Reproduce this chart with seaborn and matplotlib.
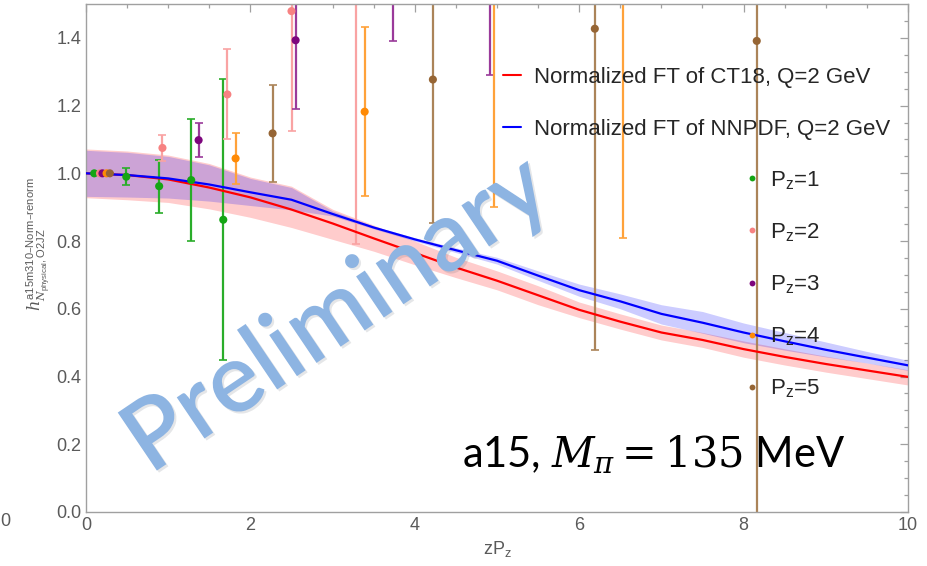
import numpy as np
import pandas as pd
import matplotlib
matplotlib.use("Agg")
import matplotlib.pyplot as plt
import seaborn as sns
from matplotlib.lines import Line2D
import matplotlib.patheffects as pe

# ---------------- data ----------------
zpz = [0.0, 0.5, 1.0, 1.5, 2.0, 2.5, 3.0, 3.5, 4.0, 4.5, 5.0,
       5.5, 6.0, 6.5, 7.0, 7.5, 8.0, 8.5, 9.0, 9.5, 10.0]
ct18 = [1.000, 0.995, 0.982, 0.958, 0.929, 0.893, 0.852, 0.808, 0.765, 0.722, 0.683,
        0.640, 0.597, 0.562, 0.530, 0.508, 0.481, 0.458, 0.437, 0.418, 0.399]
ct18_lo = [0.928, 0.922, 0.914, 0.895, 0.870, 0.840, 0.805, 0.770, 0.730, 0.692, 0.656,
           0.612, 0.574, 0.540, 0.508, 0.486, 0.457, 0.434, 0.413, 0.394, 0.375]
ct18_hi = [1.072, 1.066, 1.054, 1.029, 0.989, 0.962, 0.894, 0.847, 0.800, 0.752, 0.712,
           0.668, 0.620, 0.585, 0.552, 0.530, 0.505, 0.482, 0.460, 0.440, 0.420]
nnpdf = [1.000, 0.995, 0.985, 0.967, 0.944, 0.922, 0.880, 0.840, 0.805, 0.773, 0.742,
         0.698, 0.655, 0.622, 0.585, 0.559, 0.530, 0.504, 0.479, 0.456, 0.433]
nnpdf_lo = [0.932, 0.930, 0.927, 0.918, 0.905, 0.892, 0.874, 0.836, 0.800, 0.766, 0.732,
            0.684, 0.637, 0.600, 0.555, 0.528, 0.500, 0.478, 0.458, 0.440, 0.418]
nnpdf_hi = [1.068, 1.062, 1.050, 1.025, 0.985, 0.958, 0.889, 0.844, 0.810, 0.780, 0.752,
            0.712, 0.673, 0.644, 0.612, 0.592, 0.558, 0.530, 0.502, 0.474, 0.448]

pz_labels = ["1", "2", "3", "4", "5"]
pz1_x = [0.10, 0.49, 0.89, 1.28, 1.67]
pz1_y = [1.000, 0.990, 0.962, 0.980, 0.863]
pz1_e = [0.000, 0.025, 0.078, 0.180, 0.415]
pz2_x = [0.17, 0.93, 1.72, 2.50, 3.28]
pz2_y = [1.000, 1.075, 1.233, 1.479, 1.950]
pz2_e = [0.000, 0.038, 0.133, 0.355, 1.160]
pz3_x = [0.20, 1.37, 2.55, 3.73, 4.91]
pz3_y = [1.000, 1.098, 1.393, 1.900, 2.000]
pz3_e = [0.000, 0.051, 0.203, 0.510, 0.710]
pz4_x = [0.25, 1.82, 3.39, 4.96, 6.53]
pz4_y = [1.000, 1.044, 1.182, 1.700, 1.900]
pz4_e = [0.000, 0.076, 0.250, 0.800, 1.090]
pz5_x = [0.29, 2.27, 4.22, 6.19, 8.16]
pz5_y = [1.000, 1.118, 1.277, 1.427, 1.391]
pz5_e = [0.000, 0.144, 0.424, 0.950, 1.600]

marker_colors = ["#14a514", "#f78282", "#7d067d", "#ff8a05", "#966534"]
bar_colors = ["#2aad2a", "#f9a3a3", "#9a3a9a", "#ffa23a", "#ab8459"]

# ---------------- style ----------------
sns.set_theme(style="white")
plt.rcParams["font.family"] = ["Liberation Sans", "DejaVu Sans"]
plt.rcParams["mathtext.fontset"] = "dejavuserif"

gray = "#5a5a5a"
spine_gray = "#a0a0a0"

fig = plt.figure(figsize=(9.28, 5.66), dpi=100)
ax = fig.add_axes([86 / 928, 1 - 512 / 566, 822 / 928, 508 / 566])

# bands
ax.fill_between(zpz, ct18_lo, ct18_hi, color="#ff0000", alpha=0.2, lw=0, zorder=1)
ax.fill_between(zpz, nnpdf_lo, nnpdf_hi, color="#0000ff", alpha=0.2, lw=0, zorder=1.1)

# error bars
groups = [(pz1_x, pz1_y, pz1_e), (pz2_x, pz2_y, pz2_e), (pz3_x, pz3_y, pz3_e),
          (pz4_x, pz4_y, pz4_e), (pz5_x, pz5_y, pz5_e)]
for (gx, gy, ge), bc in zip(groups, bar_colors):
    ax.errorbar(gx, gy, yerr=ge, fmt="none", ecolor=bc, elinewidth=1.6,
                capsize=3.0, capthick=1.2, zorder=2)

# curves
curves = pd.DataFrame({
    "zPz": zpz + zpz,
    "h": ct18 + nnpdf,
    "pdf": ["CT18"] * len(zpz) + ["NNPDF"] * len(zpz),
})
sns.lineplot(data=curves, x="zPz", y="h", hue="pdf",
             palette={"CT18": "#ff0000", "NNPDF": "#0000ff"},
             linewidth=1.6, legend=False, ax=ax, zorder=3)

# points
pts = pd.DataFrame({
    "x": sum([g[0] for g in groups], []),
    "y": sum([g[1] for g in groups], []),
    "Pz": sum([[lab] * len(g[0]) for lab, g in zip(pz_labels, groups)], []),
})
sns.scatterplot(data=pts, x="x", y="y", hue="Pz", hue_order=pz_labels,
                palette=dict(zip(pz_labels, marker_colors)), s=34,
                edgecolor="none", legend=False, ax=ax, zorder=4, clip_on=True)

# axes
ax.set_xlim(0, 10)
ax.set_ylim(0, 1.5)
ax.set_xticks(np.arange(0, 10.1, 2))
ax.set_xticks(np.arange(0, 10.01, 0.5), minor=True)
ax.set_yticks(np.arange(0, 1.41, 0.2))
ax.set_yticks(np.arange(0, 1.5, 0.05), minor=True)
ax.set_xticklabels(["0", "2", "4", "6", "8", "10"])
ax.set_yticklabels([f"{v:.1f}" for v in np.arange(0, 1.41, 0.2)])
ax.tick_params(which="both", direction="in", top=True, right=True,
               colors=spine_gray, labelcolor=gray, labelsize=13, width=0.9)
ax.tick_params(which="major", length=5.5, pad=3.5)
ax.tick_params(which="minor", length=3)
for s in ax.spines.values():
    s.set_color(spine_gray)
    s.set_linewidth(1.0)

ax.set_xlabel(r"zP$_\mathregular{z}$", fontsize=13, color=gray)
ax.xaxis.set_label_coords(0.5, -0.053)
ax.set_ylabel(r"$h^{\mathregular{a15m310–Norm–renorm}}_{N_{\mathregular{physical}}\mathregular{,O2JZ}}$",
              fontsize=11.5, color=gray)
ax.yaxis.set_label_coords(-0.041, 0.528)

# legends
lines_h = [Line2D([], [], color="#ff0000", lw=1.5), Line2D([], [], color="#0000ff", lw=1.5)]
leg1 = ax.legend(lines_h, ["Normalized FT of CT18, Q=2 GeV", "Normalized FT of NNPDF, Q=2 GeV"],
                 loc="upper left", bbox_to_anchor=((503 - 86) / 822, (512 - 67) / 508),
                 frameon=False, fontsize=16, handlelength=0.8, handletextpad=0.6,
                 labelspacing=1.40, borderpad=0, borderaxespad=0)
ax.add_artist(leg1)
pts_h = [Line2D([], [], ls="none", marker="o", markersize=4.2, color=c, markeredgewidth=0)
         for c in marker_colors]
leg2 = ax.legend(pts_h, [r"P$_\mathregular{z}$=" + p for p in pz_labels],
                 loc="upper left", bbox_to_anchor=((746 - 86) / 822, (512 - 169) / 508),
                 frameon=False, fontsize=16, handlelength=0.5, handletextpad=0.6,
                 labelspacing=1.33, borderpad=0, borderaxespad=0)

# annotation
ax.text((462 - 86) / 822, (512 - 467) / 508, r"a15, $M_\pi = 135$ MeV", transform=ax.transAxes,
        fontsize=30, family=["Lato", "DejaVu Sans"], color="black", va="baseline", ha="left",
        zorder=6)

# watermark
ax.text(3.06, 0.58, "Preliminary", fontsize=70, family=["Lato", "DejaVu Sans"],
        fontweight="semibold",
        color="#8db4e2", rotation=34, rotation_mode="anchor", ha="center", va="center",
        zorder=5,
        path_effects=[pe.SimplePatchShadow(offset=(1.5, -1.5), alpha=0.12), pe.Normal()])

# artifact digit on the left edge
fig.text(0.0, (566 - 522) / 566, "0", fontsize=13, color=gray, va="center", ha="left")

fig.savefig("out.png", dpi=100)
